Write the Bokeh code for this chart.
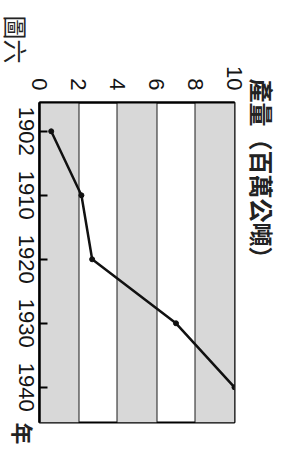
from bokeh.plotting import figure
from bokeh.models import Range1d, BoxAnnotation, Label
from bokeh.embed import file_html
from bokeh.resources import INLINE

# ---- data ----
years = ["1902", "1910", "1920", "1930", "1940"]
production = [0.6, 2.15, 2.7, 7.0, 10.0]      # 產量 (百萬公噸)
value_ticks = [0, 2, 4, 6, 8, 10]
band_starts = [0, 4, 8]
band_width = 2
title_text = "產量（百萬公噸）"
fig_label = "圖六"
year_unit = "年"

idx = list(range(len(years)))
NUM_FONT = "Liberation Sans"
CJK_FONT = "Noto Sans CJK TC"

# The chart is drawn upright (451 x 287) and the whole figure is turned
# 90 degrees clockwise, as in the reference scan.  Bokeh measures the turned
# box, so the element itself is given the turned size 287 x 451.
p = figure(width=287, height=451, output_backend="svg", toolbar_location=None,
           x_range=Range1d(-0.45, 4.55), y_range=Range1d(0, 10),
           min_border_left=102, min_border_right=29,
           min_border_top=52, min_border_bottom=40,
           styles={"transform": "translate(287px, 0px) rotate(90deg)",
                   "transform-origin": "0 0"})

p.background_fill_color = "white"
p.border_fill_color = "white"
p.outline_line_color = "black"
p.outline_line_width = 2

# shaded bands
for b in band_starts:
    p.add_layout(BoxAnnotation(bottom=b, top=b + band_width,
                               fill_color="#d8d8d8", fill_alpha=1.0,
                               line_alpha=0, level="underlay"))

# grid
p.ygrid.ticker = value_ticks
p.ygrid.grid_line_color = "#1a1a1a"
p.ygrid.grid_line_width = 2
p.xgrid.grid_line_color = None

# value axis (left)
p.yaxis.ticker = value_ticks
p.yaxis.major_label_text_font = NUM_FONT
p.yaxis.major_label_text_font_size = "22px"
p.yaxis.major_label_text_color = "#151515"
p.yaxis.major_label_standoff = 6
p.yaxis.major_tick_line_color = None
p.yaxis.minor_tick_line_color = None
p.yaxis.axis_line_color = "black"
p.yaxis.axis_line_width = 2

# year axis (bottom)
p.xaxis.ticker = idx
p.xaxis.major_label_overrides = {i: y for i, y in zip(idx, years)}
p.xaxis.major_label_text_font = NUM_FONT
p.xaxis.major_label_text_font_size = "22px"
p.xaxis.major_label_text_color = "#151515"
p.xaxis.major_label_standoff = 6
p.xaxis.major_tick_in = 8
p.xaxis.major_tick_out = 0
p.xaxis.major_tick_line_width = 2
p.xaxis.major_tick_line_color = "black"
p.xaxis.minor_tick_line_color = None
p.xaxis.axis_line_color = "black"
p.xaxis.axis_line_width = 2.5

# data line
p.line(idx, production, line_color="#111111", line_width=2.5)
p.scatter(idx, production, size=5, color="#111111")

# texts outside the frame (side-panel labels are not clipped to the frame)
p.add_layout(Label(x=-0.825, y=11.44, text=title_text,
                   text_align="left", text_baseline="middle",
                   text_font=CJK_FONT, text_font_style="bold",
                   text_font_size="24px", text_color="#222222"), "above")
p.add_layout(Label(x=-1.81, y=-1.18, text=fig_label,
                   text_align="left", text_baseline="middle",
                   text_font=CJK_FONT, text_font_size="24px",
                   text_color="#222222"), "left")
p.add_layout(Label(x=4.72, y=-0.82, text=year_unit,
                   text_align="center", text_baseline="middle",
                   text_font=CJK_FONT, text_font_style="bold",
                   text_font_size="22px", text_color="#222222"), "right")

open("out.html", "w").write(file_html(p, INLINE))
